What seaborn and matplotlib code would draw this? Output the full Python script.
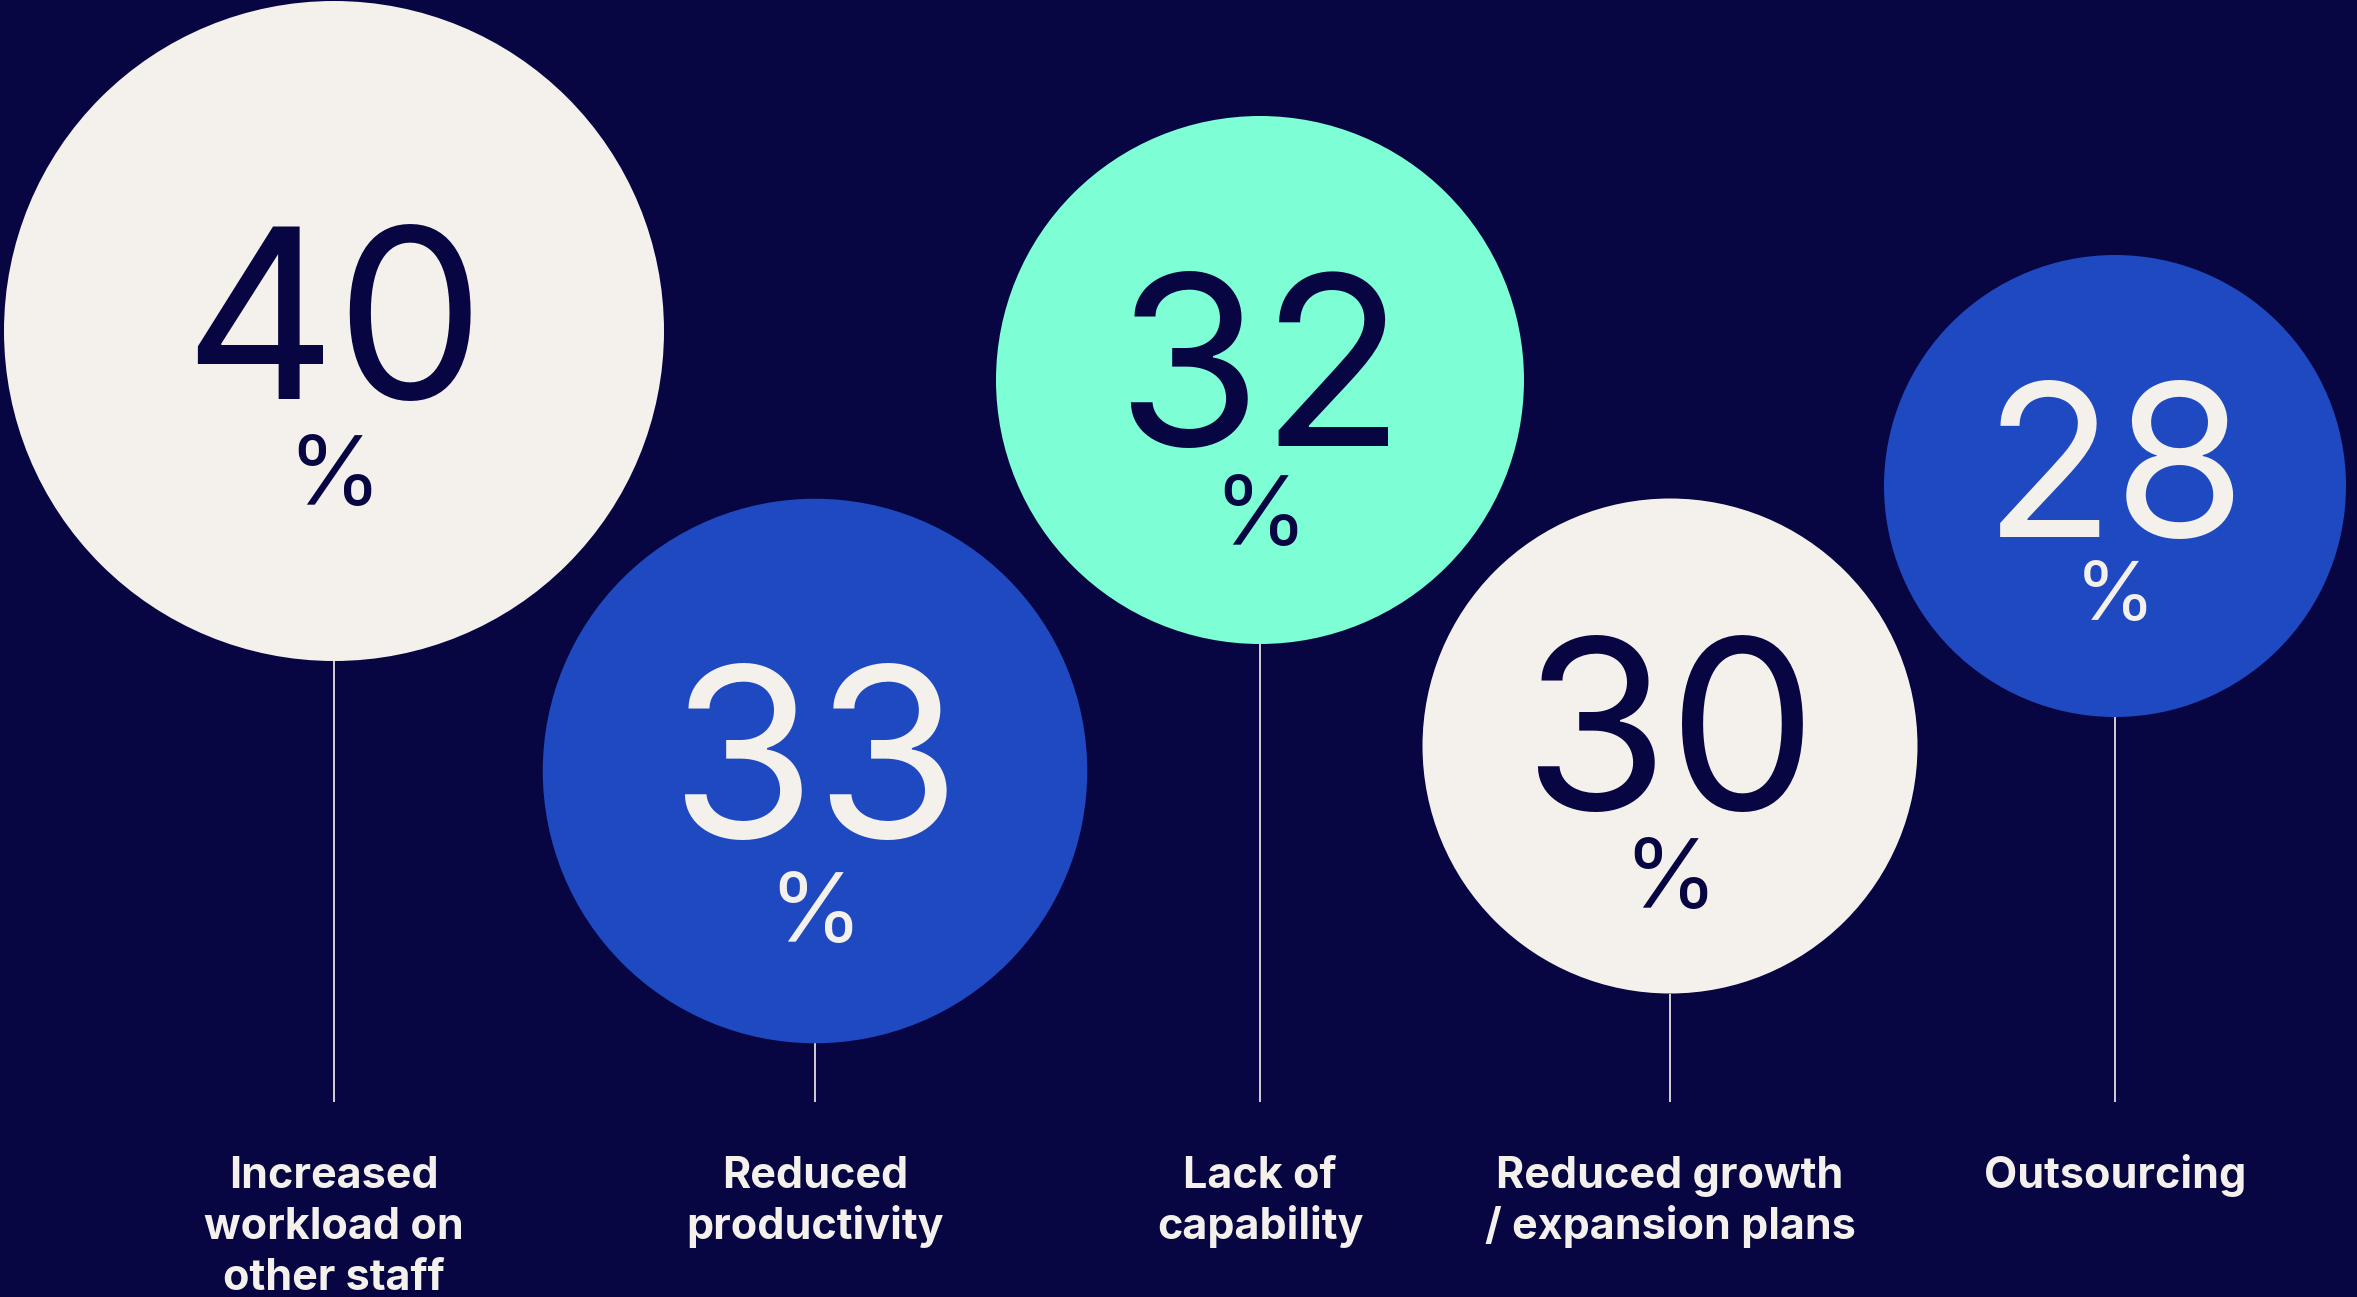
import numpy as np
import pandas as pd
import matplotlib
matplotlib.use("Agg")
import matplotlib.pyplot as plt
import seaborn as sns

# ---- data ----
categories = ["Increased\nworkload on\nother staff", "Reduced\nproductivity",
              "Lack of\ncapability", "Reduced growth\n/ expansion plans", "Outsourcing"]
values = [40, 33, 32, 30, 28]

# ---- layout / style (pixels of a 2357x1297 canvas) ----
W, H, DPI = 2357, 1297, 100
cx = [334, 815, 1260, 1670, 2115]
cy = [331, 771, 380, 746, 486]
px_per_unit = 8.25                      # circle radius in px per percentage point
fill_colors = ["#F4F1EC", "#1E49C1", "#7DFED4", "#F4F1EC", "#1E49C1"]
BG = "#070542"
CREAM = "#F4F1EC"
text_colors = [BG, CREAM, BG, BG, CREAM]
num_size = [170, 170, 170, 170, 154]
pct_size = [69, 69, 69, 69, 59]
num_off = [68, 67, 66, 64, 51]
pct_off = [174, 171, 165, 162, 134]
stem_end = 1102
label_base = 1188
label_step = 51

sns.set_theme(style="white")
plt.rcParams["font.family"] = ["Inter", "DejaVu Sans"]

fig = plt.figure(figsize=(W / DPI, H / DPI), dpi=DPI, facecolor=BG)
ax = fig.add_axes([0, 0, 1, 1])
ax.set_facecolor(BG)

df = pd.DataFrame({"cat": categories, "value": values, "x": cx, "y": cy})
radii = np.array(values) * px_per_unit
diam_pt = 2 * radii * 72 / DPI          # marker diameter in points
size_map = dict(zip(categories, diam_pt ** 2))
pal = dict(zip(categories, fill_colors))

# stems
for i, r in enumerate(radii):
    ax.vlines(cx[i], cy[i] + r, stem_end, color=CREAM, linewidth=1.2, zorder=1)

sns.scatterplot(data=df, x="x", y="y", hue="cat", palette=pal, size="cat",
                sizes=size_map, legend=False, linewidth=0, ax=ax, zorder=2)
ax.set_xlim(0, W)
ax.set_ylim(H, 0)
ax.set_axis_off()

for i, v in enumerate(values):
    ax.text(cx[i], cy[i] + num_off[i], f"{v}", ha="center", va="baseline",
            fontsize=num_size[i], color=text_colors[i], fontweight="normal", zorder=3)
    ax.text(cx[i], cy[i] + pct_off[i], "%", ha="center", va="baseline",
            fontsize=pct_size[i], color=text_colors[i], fontweight="normal", zorder=3)
    for j, line in enumerate(categories[i].split("\n")):
        ax.text(cx[i], label_base + j * label_step, line, ha="center", va="baseline",
                fontsize=31, color=CREAM, fontweight="bold", zorder=3)

fig.savefig("out.png", dpi=DPI, facecolor=BG)
